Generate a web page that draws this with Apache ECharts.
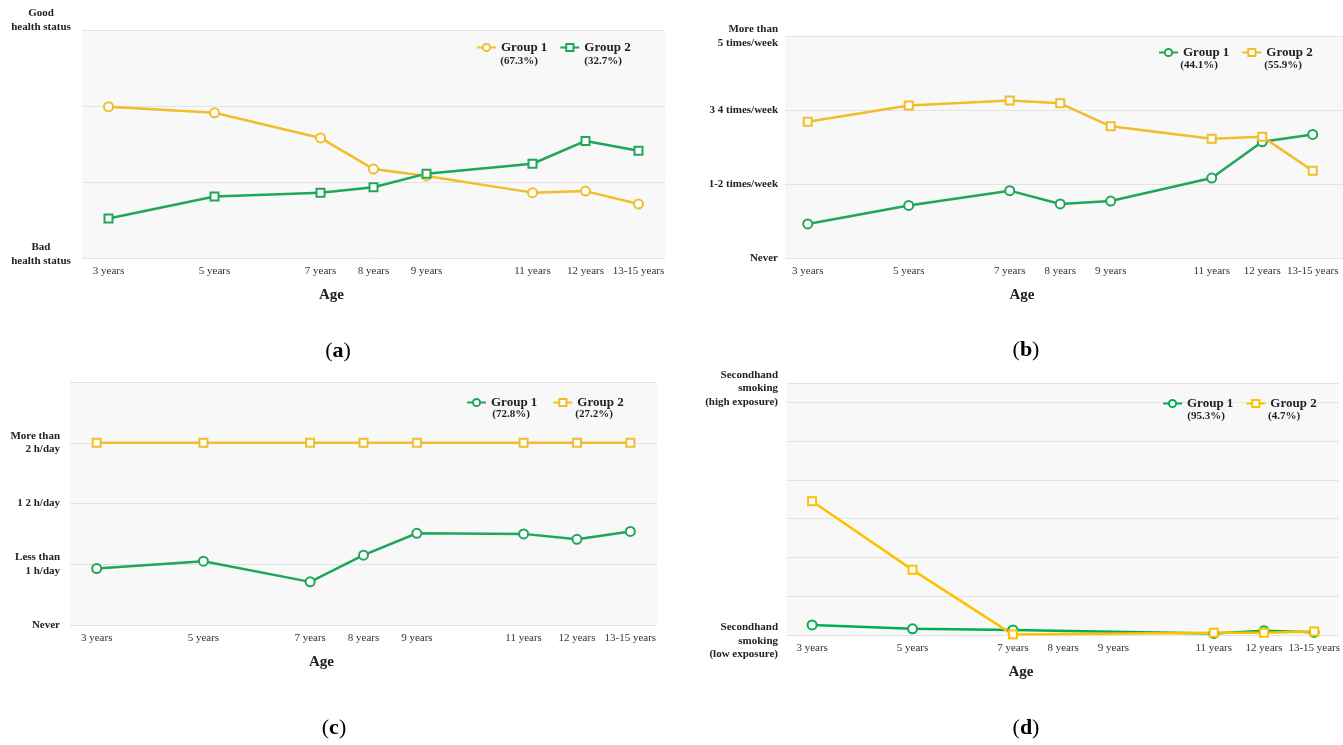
<!DOCTYPE html>
<html>
<head>
<meta charset="utf-8">
<script src="https://cdn.jsdelivr.net/npm/echarts@6/dist/echarts.min.js"></script>
<style>
  html, body { margin: 0; background: #fff; }
  #main { width: 1343px; height: 745px; }
</style>
</head>
<body>
<div id="main"></div>
<script>
// x positions (13-15 years drawn at 13)
var ages = [3, 5, 7, 8, 9, 11, 12, 13];
var ageLabels = ['3 years', '5 years', '7 years', '8 years', '9 years', '11 years', '12 years', '13-15 years'];

// (a) health status
var healthGroup1 = [1.99, 1.91, 1.58, 1.17, 1.08, 0.86, 0.88, 0.71];
var healthGroup2 = [0.52, 0.81, 0.86, 0.93, 1.11, 1.24, 1.54, 1.41];
var healthShares = ['67.3%', '32.7%'];
var healthTicks = [0, 3];
var healthTickLabels = ['Bad\nhealth status', 'Good\nhealth status'];

// (b) physical activity
var activityGroup1 = [0.46, 0.71, 0.91, 0.73, 0.77, 1.08, 1.57, 1.67];
var activityGroup2 = [1.84, 2.06, 2.13, 2.09, 1.78, 1.61, 1.64, 1.18];
var activityShares = ['44.1%', '55.9%'];
var activityTicks = [0, 1, 2, 3];
var activityTickLabels = ['Never', '1-2 times/week', '3 4 times/week', 'More than\n5 times/week'];

// (c) screen time
var screenGroup1 = [0.93, 1.05, 0.71, 1.15, 1.51, 1.50, 1.41, 1.54];
var screenGroup2 = [3, 3, 3, 3, 3, 3, 3, 3];
var screenShares = ['72.8%', '27.2%'];
var screenTicks = [0, 1, 2, 3];
var screenTickLabels = ['Never', 'Less than\n1 h/day', '1 2 h/day', 'More than\n2 h/day'];

// (d) secondhand smoking (no markers at 8 and 9 years)
var smokeGroup1 = [0.26, 0.16, 0.13, null, null, 0.04, 0.11, 0.07];
var smokeGroup2 = [3.45, 1.68, 0.01, null, null, 0.06, 0.06, 0.09];
var smokeShares = ['95.3%', '4.7%'];
var smokeTicks = [0, 6];
var smokeTickLabels = ['Secondhand\nsmoking\n(low exposure)', 'Secondhand\nsmoking\n(high exposure)'];

var YELLOW = '#F2BD2A', GREEN = '#1FA65A';
var YELLOW_D = '#FFC000', GREEN_D = '#00B050';
var SERIF = '"Liberation Serif", "Times New Roman", serif';

var chart = echarts.init(document.getElementById('main'));

// shift > 0 moves a tick label up, < 0 moves it down (px)
function yAxis(idx, max, ticks, labels, align, margin, shifts) {
  var rich = { t: { fontFamily: SERIF, fontWeight: 'bold', fontSize: 11, lineHeight: 13.5, color: '#222' } };
  shifts.forEach(function (s, i) { rich['s' + i] = { fontSize: 2, lineHeight: Math.max(1, Math.abs(s) * 2) }; });
  return {
    type: 'value', gridIndex: idx, min: 0, max: max, interval: 1,
    axisLine: { show: false }, axisTick: { show: false },
    splitLine: { lineStyle: { color: '#e3e3e3', width: 1 } },
    axisLabel: {
      customValues: ticks, align: align, margin: margin, rich: rich,
      formatter: function (v) {
        var i = ticks.indexOf(v);
        if (i < 0) return '';
        var body = labels[i].split('\n').map(function (l) { return '{t|' + l + '}'; }).join('\n');
        if (shifts[i] > 0) return body + '\n{s' + i + '| }';
        if (shifts[i] < 0) return '{s' + i + '| }\n' + body;
        return body;
      }
    }
  };
}

function xAxis(idx, min, max) {
  return {
    type: 'value', gridIndex: idx, min: min, max: max,
    axisLine: { show: false }, axisTick: { show: false }, splitLine: { show: false },
    axisLabel: {
      customValues: ages, margin: 8,
      fontFamily: SERIF, fontSize: 11, color: '#333',
      formatter: function (v) { return ageLabels[ages.indexOf(v)]; }
    },
    name: 'Age', nameLocation: 'middle', nameGap: 30,
    nameTextStyle: { fontFamily: SERIF, fontWeight: 'bold', fontSize: 15, color: '#222', padding: [0, 84, 0, 0] }
  };
}

function lineSeries(name, idx, values, color, symbol) {
  var pts = [];
  ages.forEach(function (a, i) { if (values[i] != null) pts.push([a, values[i]]); });
  return {
    name: name, type: 'line', xAxisIndex: idx, yAxisIndex: idx, data: pts,
    symbol: symbol, symbolSize: symbol === 'emptyCircle' ? 9 : 8,
    lineStyle: { width: 2.5, color: color },
    itemStyle: { color: color, borderWidth: 2 },
    clip: false, animation: false
  };
}

function legend(names, left, top, gap) {
  return {
    data: names, left: left, top: top, padding: 0, itemGap: gap, itemWidth: 19, itemHeight: 9,
    textStyle: { fontFamily: SERIF, fontWeight: 'bold', fontSize: 13, color: '#222' },
    formatter: function (n) { return n.split(' (')[0]; }
  };
}

function pct(text, x, y) {
  return { type: 'text', style: { text: '(' + text + ')', x: x, y: y, align: 'center', verticalAlign: 'middle',
    font: 'bold 11px ' + SERIF, fill: '#222' } };
}

function panelTag(letter, x, y) {
  return { type: 'text', style: { text: '{p|(}{l|' + letter + '}{p|)}', x: x, y: y, align: 'center', verticalAlign: 'middle',
    rich: { p: { fontFamily: SERIF, fontSize: 22, color: '#111' }, l: { fontFamily: SERIF, fontWeight: 'bold', fontSize: 22, color: '#111' } } } };
}

var nA1 = 'Group 1 (' + healthShares[0] + ')', nA2 = 'Group 2 (' + healthShares[1] + ')';
var nB1 = 'Group 1 (' + activityShares[0] + ')', nB2 = 'Group 2 (' + activityShares[1] + ')';
var nC1 = 'Group 1 (' + screenShares[0] + ')', nC2 = 'Group 2 (' + screenShares[1] + ')';
var nD1 = 'Group 1 (' + smokeShares[0] + ')', nD2 = 'Group 2 (' + smokeShares[1] + ')';

var gridStyle = { show: true, backgroundColor: '#f8f8f8', borderWidth: 0 };

var option = {
  backgroundColor: '#fff',
  animation: false,
  grid: [
    Object.assign({ left: 82, top: 30, width: 583, height: 228 }, gridStyle),
    Object.assign({ left: 785, top: 36, width: 558, height: 222 }, gridStyle),
    Object.assign({ left: 70, top: 382, width: 587, height: 243 }, gridStyle),
    Object.assign({ left: 787, top: 383, width: 556, height: 252 }, gridStyle)
  ],
  xAxis: [xAxis(0, 2.5, 13.5), xAxis(1, 2.55, 13.6), xAxis(2, 2.5, 13.5), xAxis(3, 2.5, 13.49)],
  yAxis: [
    yAxis(0, 3, healthTicks, healthTickLabels, 'center', 41, [4, 10]),
    yAxis(1, 3, activityTicks, activityTickLabels, 'right', 7, [0, 0, 0, 0]),
    yAxis(2, 4, screenTicks, screenTickLabels, 'right', 10, [0, 0, 0, 0]),
    yAxis(3, 6.5, smokeTicks, smokeTickLabels, 'right', 9, [-6, 14])
  ],
  legend: [
    legend([nA1, nA2], 476, 41, 12),
    legend([nB1, nB2], 1158, 46, 12),
    legend([nC1, nC2], 466, 396, 15),
    legend([nD1, nD2], 1162, 397, 12)
  ],
  graphic: [
    pct(healthShares[0], 519, 61), pct(healthShares[1], 603, 61),
    pct(activityShares[0], 1199, 65), pct(activityShares[1], 1283, 65),
    pct(screenShares[0], 511, 414), pct(screenShares[1], 594, 414),
    pct(smokeShares[0], 1206, 416), pct(smokeShares[1], 1284, 416),
    panelTag('a', 338, 351), panelTag('b', 1026, 350),
    panelTag('c', 334, 728), panelTag('d', 1026, 728)
  ],
  series: [
    lineSeries(nA1, 0, healthGroup1, YELLOW, 'emptyCircle'),
    lineSeries(nA2, 0, healthGroup2, GREEN, 'emptyRect'),
    lineSeries(nB1, 1, activityGroup1, GREEN, 'emptyCircle'),
    lineSeries(nB2, 1, activityGroup2, YELLOW, 'emptyRect'),
    lineSeries(nC1, 2, screenGroup1, GREEN, 'emptyCircle'),
    lineSeries(nC2, 2, screenGroup2, YELLOW, 'emptyRect'),
    lineSeries(nD1, 3, smokeGroup1, GREEN_D, 'emptyCircle'),
    lineSeries(nD2, 3, smokeGroup2, YELLOW_D, 'emptyRect')
  ]
};

chart.setOption(option);
</script>
</body>
</html>
